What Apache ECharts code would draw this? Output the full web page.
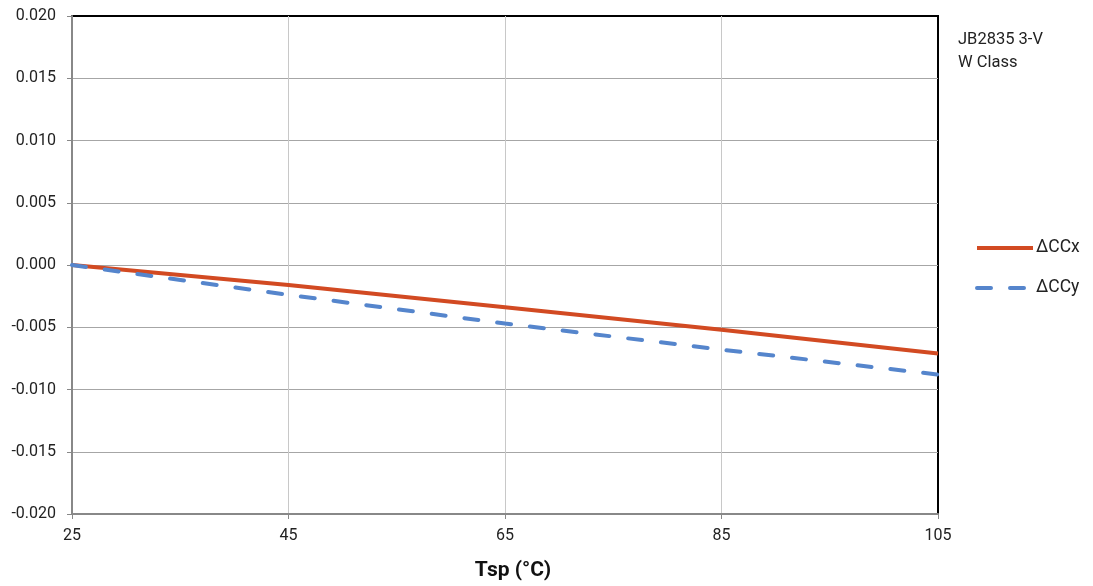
<!DOCTYPE html>
<html>
<head>
<meta charset="utf-8">
<script src="https://cdn.jsdelivr.net/npm/echarts@6/dist/echarts.min.js"></script>
<style>
  html, body { margin: 0; padding: 0; background: #fff; }
  #chart { width: 1093px; height: 586px; }
</style>
</head>
<body>
<div id="chart"></div>
<script>
// temperature points (°C)
const tsp = ['25', '45', '65', '85', '105'];
// colour shift vs 25 °C
const dCCx = [0, -0.0016, -0.0034, -0.0052, -0.0071];
const dCCy = [0, -0.0024, -0.0047, -0.0068, -0.0088];

const chart = echarts.init(document.getElementById('chart'));
const option = {
    animation: false,
    textStyle: { fontFamily: 'Roboto' },
    title: {
        text: 'JB2835 3-V\nW Class',
        left: 953,
        top: 23,
        textStyle: { fontSize: 16.5, fontWeight: 'normal', color: '#222', lineHeight: 23, fontFamily: 'Roboto' }
    },
    legend: {
        orient: 'vertical',
        left: 970,
        top: 234,
        itemWidth: 56,
        itemHeight: 14,
        itemGap: 22,
        itemStyle: { opacity: 0 },
        lineStyle: { width: 4 },
        textStyle: { fontSize: 17.5, color: '#222', padding: [0, 0, 0, -2] },
        data: ['ΔCCx', 'ΔCCy']
    },
    grid: {
        left: 72,
        right: 155,
        top: 16,
        bottom: 70,
        show: true,
        borderColor: '#000',
        borderWidth: 2
    },
    xAxis: {
        type: 'category',
        data: tsp,
        boundaryGap: false,
        name: 'Tsp (°C)',
        nameLocation: 'middle',
        nameGap: 46,
        nameTextStyle: { fontSize: 21, fontWeight: 'bold', color: '#111', padding: [0, 0, 0, 16] },
        axisLine: { onZero: false, lineStyle: { color: '#888', width: 2 } },
        axisTick: { show: true, length: 5, lineStyle: { color: '#888' } },
        axisLabel: { fontSize: 16, color: '#222', margin: 14 },
        splitLine: { show: true, showMinLine: false, showMaxLine: false, lineStyle: { color: '#c8c8c8', width: 1 } }
    },
    yAxis: {
        type: 'value',
        min: -0.02,
        max: 0.02,
        interval: 0.005,
        axisLine: { show: true, lineStyle: { color: '#888', width: 2 } },
        axisTick: { show: true, length: 5, lineStyle: { color: '#888' } },
        axisLabel: {
            fontSize: 16, color: '#222', margin: 16,
            formatter: function (v) { return v.toFixed(3); }
        },
        splitLine: { show: true, showMinLine: false, showMaxLine: false, lineStyle: { color: '#a6a6a6', width: 1 } }
    },
    series: [
        {
            name: 'ΔCCx',
            type: 'line',
            data: dCCx,
            symbol: 'none',
            color: '#d24a22',
            lineStyle: { color: '#d24a22', width: 4 }
        },
        {
            name: 'ΔCCy',
            type: 'line',
            data: dCCy,
            symbol: 'none',
            color: '#5585cc',
            lineStyle: { color: '#5585cc', width: 4, type: [14, 19], cap: 'round' }
        }
    ]
};
chart.setOption(option);
window.addEventListener('resize', function () {
    chart.resize();
});
</script>
</body>
</html>
